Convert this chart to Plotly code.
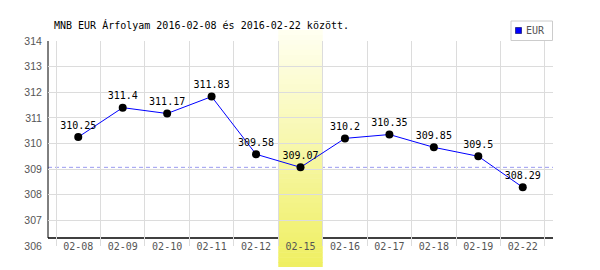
import plotly.graph_objects as go

dates = ["02-08", "02-09", "02-10", "02-11", "02-12", "02-15", "02-16", "02-17", "02-18", "02-19", "02-22"]
eur = [310.25, 311.4, 311.17, 311.83, 309.58, 309.07, 310.2, 310.35, 309.85, 309.5, 308.29]
series_name = "EUR"
highlight_date = "02-15"
ref_value = 309.07
y_ticks = [306, 307, 308, 309, 310, 311, 312, 313, 314]
title = "MNB EUR Árfolyam 2016-02-08 és 2016-02-22 között."

W, H = 600, 270
L, R, T, B = 48, 47, 41, 24
PW, PH = W - L - R, H - T - B

def px_x(p):
    return (p - L) / PW

def px_y(p):
    return (H - B - p) / PH

MONO = "DejaVu Sans Mono"

fig = go.Figure()
fig.add_trace(go.Scatter(
    x=dates, y=eur, mode="lines+markers+text",
    text=[f"{v:g}" for v in eur], textposition="top center",
    textfont=dict(family=MONO, size=10, color="#000"),
    line=dict(color="#0000ff", width=1),
    marker=dict(color="#000", size=8),
    cliponaxis=False, showlegend=False,
))

shapes = []
# reference dashed line
shapes.append(dict(type="line", xref="paper", yref="y", x0=0, x1=1, y0=ref_value, y1=ref_value,
                   line=dict(color="#9a9af0", width=1, dash="4px,3px"), layer="below"))
# axis lines
ax_y = px_y(238)
shapes.append(dict(type="line", xref="paper", yref="paper", x0=0, x1=1, y0=ax_y, y1=ax_y,
                   line=dict(color="#000", width=1.6), layer="below"))
shapes.append(dict(type="line", xref="paper", yref="paper", x0=0, x1=0, y0=ax_y, y1=1,
                   line=dict(color="#000", width=1), layer="below"))
# highlight band gradient
hi = dates.index(highlight_date)
top_px, bot_px = 30, 267
n = 48
c0 = (255, 255, 242)
c1 = (239, 239, 96)
for i in range(n):
    t = (i + 0.5) / n
    col = tuple(round(c0[k] + (c1[k] - c0[k]) * t) for k in range(3))
    y_top = top_px + (bot_px - top_px) * i / n
    y_bot = top_px + (bot_px - top_px) * (i + 1) / n + 0.6
    shapes.append(dict(type="rect", xref="x", yref="paper", x0=hi - 0.5, x1=hi + 0.5,
                       y0=px_y(min(y_bot, bot_px)), y1=px_y(y_top),
                       fillcolor="rgb(%d,%d,%d)" % col, line=dict(width=0), layer="below"))
# legend box
shapes.append(dict(type="rect", xref="paper", yref="paper", x0=px_x(511), x1=px_x(552.5),
                   y0=px_y(40.5), y1=px_y(21), line=dict(color="#cccccc", width=1),
                   fillcolor="white", layer="above"))
shapes.append(dict(type="rect", xref="paper", yref="paper", x0=px_x(515.5), x1=px_x(521.5),
                   y0=px_y(33.5), y1=px_y(27.5), line=dict(color="#333399", width=1),
                   fillcolor="#0000ff", layer="above"))

annotations = [
    dict(text=series_name, xref="paper", yref="paper", x=px_x(524), y=px_y(31),
         xanchor="left", yanchor="middle", showarrow=False,
         font=dict(family=MONO, size=10, color="#555")),
    dict(text=title, xref="paper", yref="paper", x=px_x(52), y=px_y(25),
         xanchor="left", yanchor="middle", showarrow=False,
         font=dict(family=MONO, size=10, color="#000")),
]

fig.update_layout(
    width=W, height=H, margin=dict(l=L, r=R, t=T, b=B),
    paper_bgcolor="white", plot_bgcolor="white",
    shapes=shapes, annotations=annotations, showlegend=False,
    xaxis=dict(type="category", tickson="boundaries", showgrid=True, gridcolor="#dcdcdc",
               gridwidth=1, ticks="", showline=False, zeroline=False,
               tickfont=dict(family=MONO, size=10, color="#555"),
               ticklabelstandoff=-7, fixedrange=True),
    yaxis=dict(range=[306, 314], tickvals=y_ticks, showgrid=True, gridcolor="#dcdcdc",
               gridwidth=1, zeroline=False, showline=False, ticks="outside", ticklen=3,
               tickcolor="rgba(0,0,0,0)",
               tickfont=dict(family="Liberation Sans", size=10.5, color="#555")),
)

fig.write_html("out.html")
